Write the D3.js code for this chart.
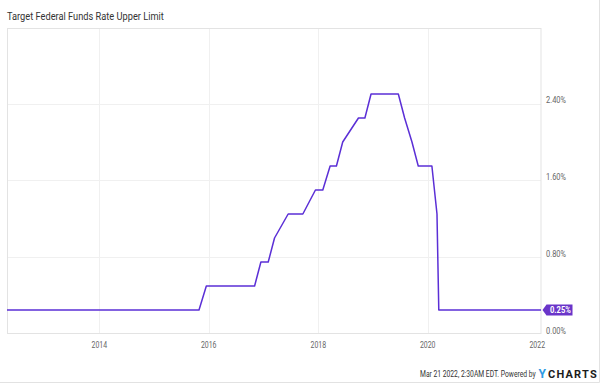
<!DOCTYPE html>
<html>
<head>
<meta charset="utf-8">
<script src="https://cdn.jsdelivr.net/npm/d3@7"></script>
<style>
  html, body { margin: 0; padding: 0; background: #fff; }
  svg { display: block; font-family: Roboto, "Noto Sans", sans-serif; }
</style>
</head>
<body>
<svg id="chart" width="600" height="383"></svg>
<script>
// ---- Data ----
const dates = ["2012-04-25","2015-10-28","2015-12-16","2016-11-02","2016-12-14","2017-02-01",
  "2017-03-15","2017-06-14","2017-09-20","2017-12-13","2018-01-31","2018-03-21","2018-05-02",
  "2018-06-13","2018-09-26","2018-11-08","2018-12-19","2019-06-19","2019-07-31","2019-09-18",
  "2019-10-30","2020-01-29","2020-03-03","2020-03-15","2022-01-26"];
const rates = [0.25,0.25,0.50,0.50,0.75,0.75,
  1.00,1.25,1.25,1.50,1.50,1.75,1.75,
  2.00,2.25,2.25,2.50,2.50,2.25,2.00,
  1.75,1.75,1.25,0.25,0.25];
const yTicks = [0, 0.8, 1.6, 2.4];
const xTickYears = [2014, 2016, 2018, 2020, 2022];
const title = "Target Federal Funds Rate Upper Limit";
const footer = "Mar 21 2022, 2:30AM EDT. Powered by";
const lastLabel = "0.25%";

const parse = d3.timeParse("%Y-%m-%d");
const data = dates.map((d, i) => ({ date: parse(d), value: rates[i] }));

const svg = d3.select("#chart");
const L = 7, R = 541, T = 28, B = 333.5;

const x = d3.scaleTime()
  .domain([parse("2012-04-25"), parse("2022-01-26")])
  .range([L, R]);
const y = d3.scaleLinear()
  .domain([0, 3.1875])
  .range([334, 28]);

// helper: draw text squeezed horizontally to a target width (real transform, so its box is right)
function squeezed(g, str, x0, y0, width, attrs, anchor) {
  const t = g.append("text").text(str);
  Object.entries(attrs).forEach(([k, v]) => t.attr(k, v));
  const w = t.node().getComputedTextLength();
  const s = width / w;
  let tx = x0;
  if (anchor === "middle") tx = x0 - width / 2;
  t.attr("transform", `translate(${tx},${y0}) scale(${s},1)`);
  return t;
}

// outer border (right/bottom)
svg.append("path").attr("d", "M599.5,0V382.5H0").attr("fill", "none").attr("stroke", "#e2e2e2");

// title
squeezed(svg, title, 7, 20, 157, { "font-size": 11, fill: "#333" });

// horizontal grid
svg.append("g").selectAll("line").data(yTicks.filter(v => v > 0)).join("line")
  .attr("x1", L).attr("x2", R)
  .attr("y1", d => Math.round(y(d)) + 0.5).attr("y2", d => Math.round(y(d)) + 0.5)
  .attr("stroke", "#f0f0f0");

// vertical grid
const xTicks = xTickYears.map(yr => new Date(yr, 0, 1));
svg.append("g").selectAll("line").data(xTicks.filter(d => x(d) < R - 5)).join("line")
  .attr("x1", d => Math.round(x(d)) + 0.5).attr("x2", d => Math.round(x(d)) + 0.5)
  .attr("y1", T).attr("y2", B)
  .attr("stroke", "#f0f0f0");

// frame
svg.append("rect").attr("x", L + 0.5).attr("y", T + 0.5)
  .attr("width", R - L - 0.5).attr("height", B - T - 0.5)
  .attr("fill", "none").attr("stroke", "#e3e3e3");

// y labels (right)
const gy = svg.append("g");
yTicks.forEach(v => squeezed(gy, d3.format(".2f")(v) + "%", 546, y(v) - 0.3, 20,
  { "font-size": 9.3, fill: "#666" }));

// x labels
const gx = svg.append("g");
xTicks.forEach(d => squeezed(gx, String(d.getFullYear()), x(d), 347.5, 15.6,
  { "font-size": 9.3, fill: "#666" }, "middle"));

// line
const line = d3.line().x(d => x(d.date)).y(d => y(d.value));
svg.append("path").datum(data)
  .attr("d", line)
  .attr("fill", "none")
  .attr("stroke", "#5b2fd6")
  .attr("stroke-width", 1.5)
  .attr("stroke-linejoin", "round");

// last value badge
const last = data[data.length - 1];
const by = y(last.value);
const bx = 542.5;
svg.append("path")
  .attr("d", `M${bx},${by} L${bx + 4},${by - 5.5} H${bx + 30} V${by + 5.5} H${bx + 4} Z`)
  .attr("fill", "#6a35c9");
squeezed(svg, lastLabel, bx + 18, by + 3.3, 21,
  { "font-size": 9, "font-weight": "bold", fill: "#fff" }, "middle");

// footer
squeezed(svg, footer, 420, 377, 116, { "font-size": 9, fill: "#333" });
squeezed(svg, "Y", 538.5, 377.5, 7.5, { "font-size": 12, "font-weight": "bold", fill: "#2f9be3" });
svg.append("text").attr("x", 548).attr("y", 377.5)
  .attr("font-size", 11).attr("font-weight", "bold").attr("fill", "#1c1c1c")
  .attr("letter-spacing", 1.2)
  .text("CHARTS");
</script>
</body>
</html>
